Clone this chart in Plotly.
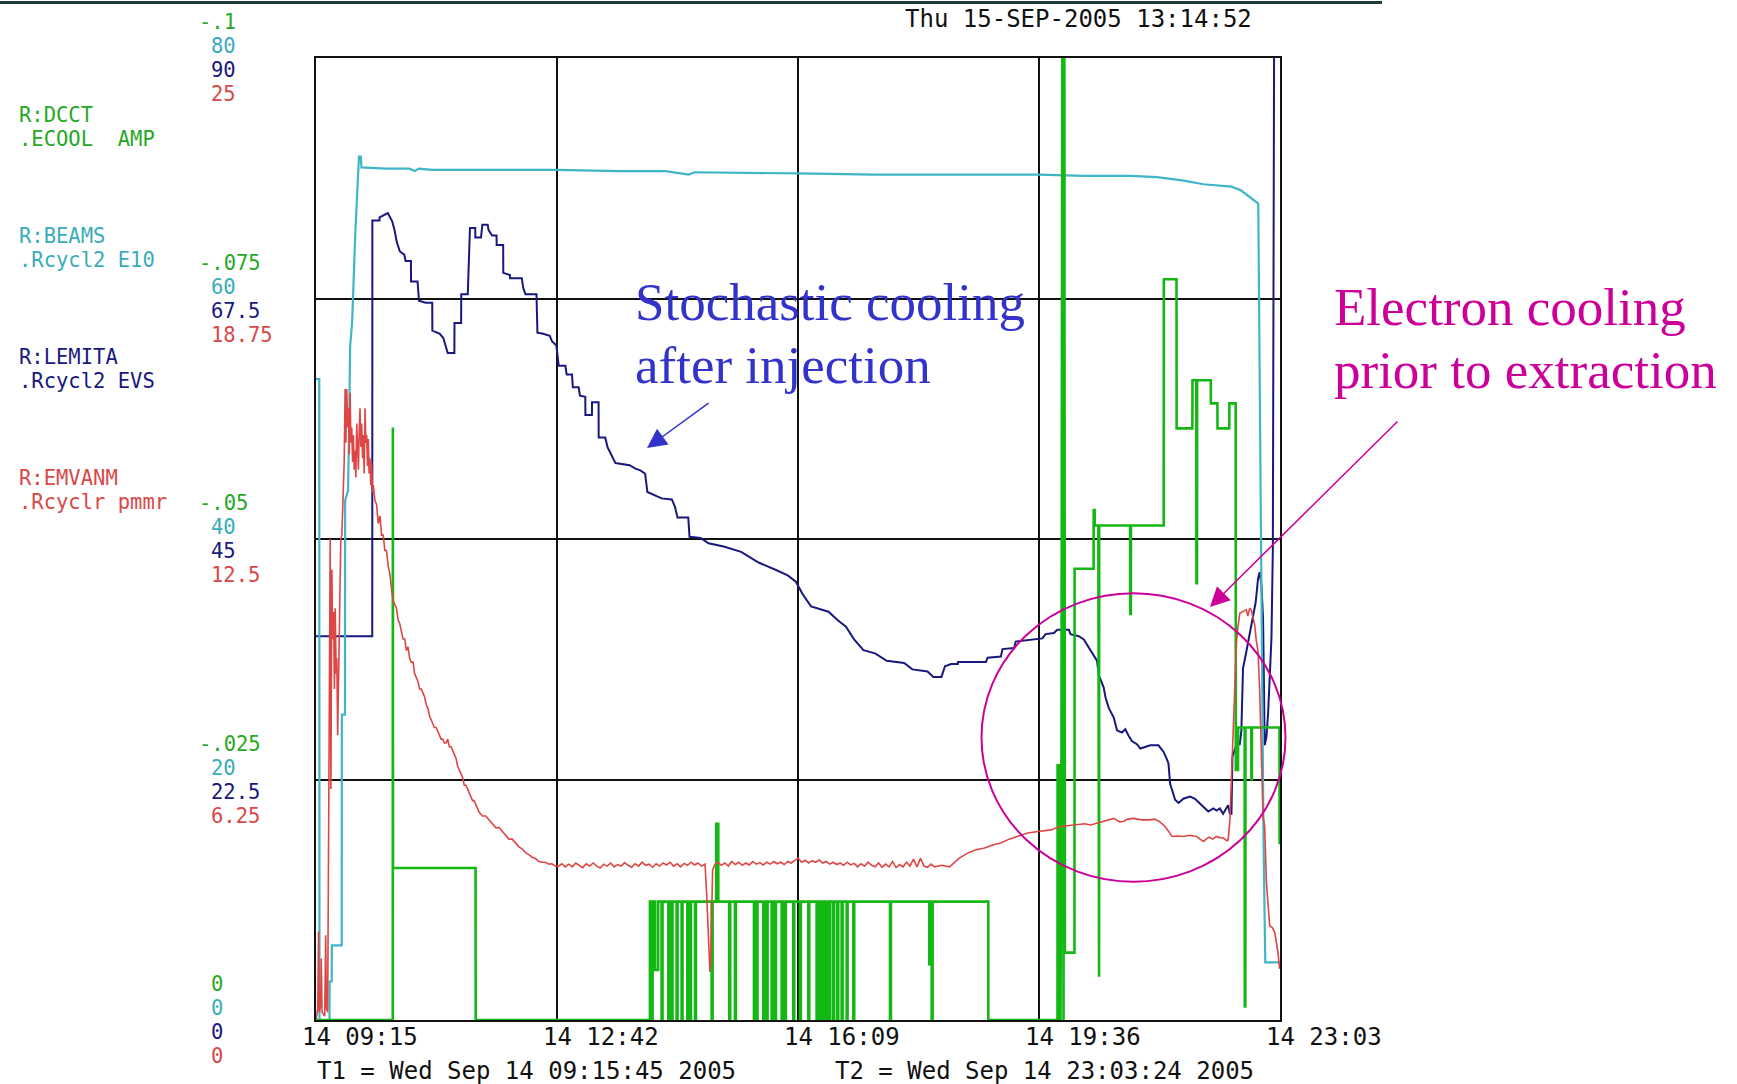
import plotly.graph_objects as go

# ---------------------------------------------------------------------------
# Time base: minutes after T1 (Wed Sep 14 09:15:45 2005) until T2 (23:03:24)
# ---------------------------------------------------------------------------
T_SPAN = 827.65
TIME_GRID = [0.0, 206.9, 413.8, 620.7, 827.65]
TIME_LABELS = ["14 09:15", "14 12:42", "14 16:09", "14 19:36", "14 23:03"]
T1_TEXT = "T1 = Wed Sep 14 09:15:45 2005"
T2_TEXT = "T2 = Wed Sep 14 23:03:24 2005"
STAMP_TEXT = "Thu 15-SEP-2005 13:14:52"

# Channel names (two lines each) and their scale labels, bottom -> top
DCCT_NAME = ["R:DCCT", ".ECOOL\u00a0 AMP"]
BEAMS_NAME = ["R:BEAMS", ".Rcycl2 E10"]
LEMITA_NAME = ["R:LEMITA", ".Rcycl2 EVS"]
EMVANM_NAME = ["R:EMVANM", ".Rcyclr pmmr"]

DCCT_SCALE = ["0", "-.025", "-.05", "-.075", "-.1"]
BEAMS_SCALE = ["0", "20", "40", "60", "80"]
LEMITA_SCALE = ["0", "22.5", "45", "67.5", "90"]
EMVANM_SCALE = ["0", "6.25", "12.5", "18.75", "25"]

DCCT_RANGE = [0.0, -0.1]
BEAMS_RANGE = [0.0, 80.0]
LEMITA_RANGE = [0.0, 90.0]
EMVANM_RANGE = [0.0, 25.0]

# R:BEAMS  (beam intensity, E10)  -- (minute, value)
BEAMS_PTS = [
    (0.0, 53.3), (2.8, 53.3), (3.0, 0.0), (11.6, 0.0), (11.7, 3.2), (13.5, 3.2),
    (13.6, 6.2), (22.1, 6.2), (22.2, 25.4), (24.9, 25.4), (25.0, 43.2), (27.5, 44.0),
    (28.5, 50.0), (29.3, 56.0), (31.0, 58.0), (32.0, 61.0), (33.9, 65.8), (35.0, 68.0),
    (36.9, 71.8), (38.5, 71.8), (39.0, 70.9), (60.0, 70.8), (80.0, 70.8), (85.0, 70.6),
    (88.0, 70.8), (100.0, 70.7), (150.0, 70.7), (207.0, 70.7), (260.0, 70.6), (300.0, 70.6),
    (320.0, 70.3), (325.0, 70.5), (414.0, 70.4), (480.0, 70.3), (560.0, 70.3), (620.0, 70.3),
    (660.0, 70.2), (700.0, 70.2), (722.0, 70.1), (745.0, 69.8), (762.0, 69.5), (786.0, 69.3),
    (794.0, 69.0), (803.0, 68.3), (809.0, 67.9), (810.5, 50.0), (812.0, 30.0), (813.5, 15.0),
    (815.0, 4.8), (827.65, 4.8),
]

# R:LEMITA  (emittance)
LEMITA_PTS = [
    (0.0, 35.9), (48.3, 35.9), (48.4, 74.8), (54.5, 74.8), (54.6, 75.1), (61.7, 75.5),
    (65.5, 74.7), (67.4, 73.9), (69.3, 72.8), (72.0, 71.9), (75.8, 71.6), (76.9, 71.0),
    (81.5, 71.0), (81.6, 69.1), (87.2, 69.1), (88.4, 67.3), (94.1, 67.1), (99.8, 67.1),
    (99.9, 64.5), (106.3, 64.2), (109.3, 63.8), (113.1, 62.4), (118.8, 62.4), (118.9, 65.2),
    (124.6, 65.2), (124.7, 67.9), (130.3, 67.9), (131.4, 71.0), (132.2, 74.1), (136.7, 74.1),
    (136.8, 73.2), (141.7, 73.2), (142.8, 74.4), (147.4, 74.4), (148.2, 73.9), (151.2, 73.4),
    (155.0, 73.4), (155.1, 72.5), (160.7, 72.5), (160.8, 69.9), (166.5, 69.7), (166.6, 69.4),
    (176.7, 69.4), (177.9, 68.5), (179.8, 67.9), (189.3, 67.9), (190.1, 64.3), (195.0, 64.2),
    (200.7, 64.0), (202.6, 63.5), (206.4, 63.1), (208.4, 61.2), (214.1, 61.2), (215.2, 60.4),
    (219.8, 60.4), (220.5, 59.2), (225.5, 59.2), (226.6, 58.4), (231.2, 58.3), (231.3, 56.6),
    (236.9, 56.6), (237.0, 57.8), (242.6, 57.8), (242.7, 54.5), (248.3, 54.5), (250.3, 53.6),
    (254.1, 52.7), (257.1, 52.1), (269.3, 51.9), (273.9, 51.6), (278.8, 51.4), (282.6, 51.1),
    (284.5, 49.4), (290.2, 49.1), (296.7, 48.8), (305.5, 48.7), (308.2, 48.0), (310.4, 47.0),
    (319.6, 47.0), (320.7, 45.2), (330.2, 45.1), (337.0, 44.6), (350.0, 44.3), (365.0, 43.8),
    (380.0, 42.8), (395.0, 42.1), (405.0, 41.6), (412.0, 41.0), (418.0, 39.8), (425.0, 38.7),
    (440.0, 38.2), (448.0, 37.4), (455.0, 36.8), (462.0, 35.6), (470.0, 34.6), (480.0, 34.3),
    (490.0, 33.6), (505.0, 33.4), (512.0, 32.8), (525.0, 32.6), (530.0, 32.1), (537.0, 32.1),
    (540.0, 33.1), (545.3, 33.3), (551.0, 33.3), (551.1, 33.5), (575.2, 33.5), (576.6, 33.9),
    (588.0, 34.0), (589.4, 34.7), (599.4, 34.8), (600.8, 35.4), (619.9, 35.7), (623.6, 35.7),
    (626.4, 36.1), (633.6, 36.2), (636.4, 36.5), (646.4, 36.5), (647.8, 36.1), (654.9, 35.9),
    (659.2, 35.6), (662.1, 35.1), (667.7, 34.2), (670.6, 33.6), (672.0, 32.3), (674.9, 31.6),
    (676.3, 31.1), (677.8, 30.2), (680.6, 29.2), (684.9, 28.3), (687.7, 27.1), (691.9, 26.9),
    (694.8, 27.2), (697.7, 26.6), (700.5, 26.1), (704.8, 25.8), (707.7, 25.4), (710.5, 25.5),
    (716.2, 25.7), (723.3, 25.7), (727.6, 25.1), (730.5, 24.4), (731.9, 24.0), (733.3, 22.1),
    (734.8, 21.5), (737.6, 20.6), (740.5, 20.3), (744.7, 20.7), (750.4, 20.9), (754.7, 20.7),
    (757.5, 20.4), (761.8, 19.9), (766.1, 19.5), (770.4, 19.8), (773.2, 19.6), (776.0, 19.8),
    (778.8, 19.3), (783.1, 20.1), (784.6, 19.3), (786.0, 19.3), (786.8, 24.6), (790.3, 25.8),
    (793.1, 25.8), (794.5, 27.1), (795.9, 32.9), (798.8, 34.5), (801.7, 36.1), (804.5, 37.6),
    (806.8, 39.1), (808.8, 41.3), (810.2, 41.9), (811.7, 40.7), (813.1, 37.6), (813.7, 32.9),
    (814.5, 25.7), (816.0, 26.5), (817.4, 28.6), (818.8, 32.0), (820.3, 35.7), (821.5, 44.0),
    (822.4, 79.9), (822.6, 92.0),
]

# R:EMVANM  (normalized emittance, pi mm mrad)
EMVANM_PTS = [
    (0.0, 0.0), (1.5, 0.3), (2.2, 2.3), (2.8, 0.2), (4.0, 0.4), (4.5, 1.6), (5.2, 0.2),
    (7.5, 0.1), (8.3, 2.2), (9.0, 0.3), (10.0, 0.2), (10.8, 5.2), (11.6, 8.9), (12.2, 12.5),
    (12.8, 6.0), (13.6, 11.7), (14.3, 9.9), (15.1, 10.6), (15.8, 8.6), (16.5, 10.7), (17.3, 9.0),
    (17.9, 9.4), (18.6, 7.4), (19.3, 8.8), (20.2, 10.0), (21.3, 12.5), (22.2, 12.6), (23.0, 13.4),
    (24.2, 14.5), (25.0, 16.4), (25.7, 15.0), (26.4, 16.4), (27.2, 15.4), (27.9, 15.9),
    (28.6, 14.7), (29.3, 16.3), (30.0, 15.0), (30.7, 15.4), (31.4, 14.5), (32.1, 15.2),
    (32.8, 14.3), (33.5, 14.8), (34.2, 14.1), (35.0, 15.5), (35.7, 14.6), (36.4, 14.3),
    (37.1, 15.3), (37.8, 15.9), (38.5, 14.9), (39.2, 15.5), (40.0, 14.6), (40.6, 15.2),
    (41.4, 14.2), (42.1, 15.9), (42.8, 15.0), (43.5, 15.2), (44.2, 14.4), (44.9, 15.1),
    (45.6, 14.2), (46.3, 14.6), (47.0, 13.9), (47.7, 14.5), (48.5, 13.7), (49.2, 13.9),
    (50.6, 13.5), (52.0, 13.4), (53.4, 12.9), (54.9, 13.1), (56.3, 12.6), (57.7, 12.6),
    (59.1, 12.2), (60.5, 12.2), (62.0, 11.8), (63.4, 11.6), (64.8, 11.2), (66.2, 10.9),
    (67.6, 10.8), (69.1, 10.7), (70.5, 10.4), (71.9, 10.3), (73.3, 10.1), (74.7, 9.9),
    (76.2, 9.9), (77.6, 9.6), (79.0, 9.7), (80.4, 9.4), (81.8, 9.3), (83.3, 9.3), (84.7, 9.0),
    (86.1, 8.9), (87.5, 8.8), (89.0, 8.6), (90.4, 8.6), (91.8, 8.5), (93.2, 8.4), (94.6, 8.2),
    (96.1, 8.1), (97.5, 7.9), (98.9, 7.8), (100.3, 7.7), (101.7, 7.6), (103.2, 7.6), (104.6, 7.5),
    (106.0, 7.4), (107.4, 7.3), (108.8, 7.3), (110.3, 7.2), (111.7, 7.2), (113.1, 7.3),
    (114.5, 7.1), (116.0, 7.1), (117.4, 7.0), (118.8, 6.9), (120.2, 6.8), (121.6, 6.6),
    (123.1, 6.5), (124.5, 6.4), (125.9, 6.3), (127.3, 6.1), (128.7, 6.1), (130.2, 6.0),
    (131.6, 5.9), (133.0, 5.8), (134.4, 5.7), (135.8, 5.7), (137.3, 5.6), (138.7, 5.5),
    (140.1, 5.4), (143.0, 5.3), (145.8, 5.3), (148.6, 5.2), (151.5, 5.1), (154.3, 5.0),
    (157.2, 5.0), (160.0, 4.9), (162.8, 4.8), (165.6, 4.7), (168.5, 4.7), (171.3, 4.6),
    (174.2, 4.5), (177.0, 4.45), (179.9, 4.35), (182.7, 4.3), (185.6, 4.23), (188.4, 4.2),
    (191.3, 4.12), (194.1, 4.1), (197.0, 4.1), (199.8, 4.05), (202.6, 4.06), (205.5, 4.0),
    (208.3, 4.0), (211.0, 4.06), (214.0, 3.98), (217.0, 4.05), (220.0, 3.98), (223.0, 4.08),
    (226.0, 4.02), (229.0, 3.96), (232.0, 4.06), (235.0, 4.0), (238.0, 4.08), (241.0, 4.0),
    (244.0, 3.95), (247.0, 4.05), (250.0, 4.0), (253.0, 4.08), (256.0, 3.98), (259.0, 4.04),
    (262.0, 4.0), (265.0, 4.09), (268.0, 4.02), (271.0, 3.97), (274.0, 4.06), (277.0, 4.0),
    (280.0, 4.1), (283.0, 4.02), (286.0, 4.05), (289.0, 3.97), (292.0, 4.06), (295.0, 4.0),
    (298.0, 4.08), (301.0, 4.03), (304.0, 4.1), (307.0, 4.0), (310.0, 4.06), (313.0, 3.98),
    (316.0, 4.07), (319.0, 4.02), (322.0, 4.1), (325.0, 4.03), (328.0, 4.08), (331.0, 4.0),
    (334.0, 4.05), (335.4, 3.29), (338.2, 1.25), (339.0, 1.6), (340.5, 3.9), (342.5, 4.05),
    (345.0, 4.1), (348.0, 4.02), (351.0, 4.08), (354.0, 4.0), (357.0, 4.12), (360.0, 4.04),
    (363.0, 4.1), (366.0, 4.02), (369.0, 4.08), (372.0, 4.03), (375.0, 4.12), (378.0, 4.05),
    (381.0, 4.09), (384.0, 4.03), (387.0, 4.1), (390.0, 4.05), (393.0, 4.12), (396.0, 4.06),
    (399.0, 4.1), (402.0, 4.04), (405.0, 4.12), (408.0, 4.08), (411.0, 4.15), (414.0, 4.2),
    (417.0, 4.1), (420.0, 4.15), (423.0, 4.08), (426.0, 4.14), (429.0, 4.1), (432.0, 4.16),
    (435.0, 4.08), (438.0, 4.12), (441.0, 4.05), (444.0, 4.1), (447.0, 4.04), (450.0, 4.08),
    (453.0, 4.02), (456.0, 4.1), (459.0, 4.03), (462.0, 4.07), (465.0, 3.98), (468.0, 4.06),
    (471.0, 4.0), (474.0, 4.1), (477.0, 4.02), (480.0, 3.98), (483.0, 4.08), (486.0, 3.97),
    (489.0, 4.05), (492.0, 3.98), (495.0, 4.12), (498.0, 3.96), (501.0, 4.04), (504.0, 3.98),
    (507.0, 4.1), (510.0, 4.0), (513.0, 4.18), (516.0, 3.98), (519.0, 4.2), (522.0, 4.0),
    (525.0, 3.97), (528.0, 4.05), (531.0, 3.98), (537.0, 4.02), (544.0, 3.98), (552.0, 4.2),
    (559.0, 4.33), (566.0, 4.42), (574.0, 4.47), (581.0, 4.55), (588.0, 4.6), (595.0, 4.7),
    (602.0, 4.77), (611.0, 4.86), (620.0, 4.9), (631.0, 4.94), (639.0, 5.03), (646.0, 5.05),
    (654.0, 5.07), (660.0, 5.1), (665.0, 5.07), (671.0, 5.12), (676.0, 5.16), (681.0, 5.22),
    (685.0, 5.24), (690.0, 5.15), (693.0, 5.16), (697.0, 5.22), (702.0, 5.24), (709.0, 5.2),
    (716.0, 5.2), (720.0, 5.22), (724.0, 5.16), (729.0, 5.03), (732.0, 4.9), (735.0, 4.77),
    (740.0, 4.78), (745.0, 4.77), (750.0, 4.8), (756.0, 4.77), (759.0, 4.7), (762.0, 4.64),
    (765.0, 4.72), (767.0, 4.75), (770.0, 4.7), (773.0, 4.77), (776.0, 4.74), (779.0, 4.73),
    (782.0, 4.66), (783.1, 4.68), (784.6, 5.16), (786.0, 6.23), (786.8, 7.0), (788.8, 8.72),
    (790.3, 9.84), (791.5, 10.2), (793.1, 10.57), (795.9, 10.62), (798.8, 10.66), (800.0, 10.5),
    (801.7, 10.7), (803.0, 10.66), (804.5, 10.44), (805.9, 10.27), (807.4, 9.84), (808.8, 9.58),
    (810.2, 8.55), (811.7, 7.0), (813.1, 5.29), (814.5, 5.03), (816.0, 3.57), (818.8, 2.45),
    (821.0, 2.4), (823.1, 2.28), (824.4, 2.02), (825.9, 1.76), (827.3, 1.33),
]

# R:DCCT .ECOOL AMP  (negative amps; 0 at the bottom, -.1 at the top)
DCCT_PRE = [
    (0.0, 0.0), (65.9, 0.0), (66.0, -0.0616), (66.1, -0.0158), (137.0, -0.0158),
    (137.1, 0.0),
]
DCCT_BURST_LEVEL = -0.0123
DCCT_BURST_START = 286.7
DCCT_BURST_END = 577.2
# excursions during the burst: (start minute, duration, value)
DCCT_EXCURSIONS = [
    (288.2, 0.8, 0.0), (291.2, 2.6, -0.0052), (296.7, 0.8, 0.0), (302.5, 0.8, 0.0),
    (305.3, 0.8, 0.0), (309.6, 0.8, 0.0), (313.9, 0.8, 0.0), (318.8, 0.8, 0.0),
    (321.1, 0.8, 0.0), (325.4, 0.8, 0.0), (339.7, 0.8, 0.0), (343.6, 1.8, -0.0204),
    (354.8, 0.8, 0.0), (359.7, 0.8, 0.0), (376.0, 0.8, 0.0), (378.3, 0.8, 0.0),
    (384.0, 0.8, 0.0), (386.9, 0.8, 0.0), (391.2, 0.8, 0.0), (394.1, 0.8, 0.0),
    (399.8, 0.8, 0.0), (402.6, 0.8, 0.0), (409.8, 0.8, 0.0), (415.5, 0.8, 0.0),
    (422.7, 0.8, 0.0), (429.8, 0.8, 0.0), (432.7, 0.8, 0.0), (435.0, 0.8, 0.0),
    (437.8, 0.8, 0.0), (440.7, 0.8, 0.0), (444.1, 0.8, 0.0), (447.6, 0.8, 0.0),
    (451.3, 0.8, 0.0), (455.6, 0.8, 0.0), (461.3, 0.8, 0.0), (492.8, 0.8, 0.0),
    (526.5, 0.8, -0.0058), (528.6, 0.8, 0.0),
]
DCCT_POST = [
    (636.6, 0.0), (636.7, -0.0266), (637.5, 0.0), (638.3, -0.0266), (639.2, 0.0),
    (640.0, -0.0266), (640.9, -0.12), (641.8, 0.0), (642.4, -0.12), (643.0, -0.0070),
    (651.2, -0.0070), (651.3, -0.0469), (667.6, -0.0469), (667.7, -0.053), (668.5, -0.053),
    (668.6, -0.0514), (671.7, -0.0514), (671.8, -0.0045), (672.3, -0.0045), (672.4, -0.0514),
    (699.0, -0.0514), (699.1, -0.0422), (699.6, -0.0422), (699.7, -0.0514), (727.8, -0.0514),
    (727.9, -0.077), (738.8, -0.077), (738.9, -0.0615), (752.4, -0.0615), (752.5, -0.0665),
    (755.8, -0.0665), (755.9, -0.0454), (756.4, -0.0454), (756.5, -0.0665), (768.2, -0.0665),
    (768.3, -0.0641), (773.9, -0.0641), (774.0, -0.0615), (784.1, -0.0615), (784.2, -0.0641),
    (789.6, -0.0641), (789.7, -0.026), (791.6, -0.026), (791.7, -0.0304), (797.3, -0.0304),
    (797.4, -0.0014), (797.9, -0.0014), (798.0, -0.0304), (803.0, -0.0304), (803.1, -0.025),
    (803.5, -0.025), (803.6, -0.0304), (827.2, -0.0304), (827.3, -0.0184), (827.65, -0.0184),
]

# ---------------------------------------------------------------------------
# Styling
# ---------------------------------------------------------------------------
W, H = 1737, 1084
PL, PR, PT, PB = 316, 1280, 58, 1020          # plot box in page pixels
MONO = "DejaVu Sans Mono, Liberation Mono, monospace"
SERIF = "Liberation Serif, Times New Roman, serif"
MONO_SIZE = 24          # axis captions and time stamps
STACK_SIZE = 20.5       # stacked scale labels and channel names (24 px pitch)
STACK_CHAR_W = 12.35

C_DCCT, C_BEAMS, C_LEMITA, C_EMVANM = "#14b814", "#3fb6c6", "#18187e", "#de4646"
T_DCCT, T_BEAMS, T_LEMITA, T_EMVANM = "#26a826", "#3aacbc", "#18187e", "#d84848"
INK = "#111111"
BLUE_NOTE, MAGENTA_NOTE = "#3333cc", "#cc0099"


def px(x):
    return (x - PL) / (PR - PL)


def py(y):
    return (PB - y) / (PB - PT)


def unzip(pts):
    return [p[0] for p in pts], [p[1] for p in pts]


# assemble the e-cool amplifier trace from its pieces
dcct_t, dcct_v = unzip(DCCT_PRE)
dcct_t += [DCCT_BURST_START, DCCT_BURST_START]
dcct_v += [0.0, DCCT_BURST_LEVEL]
for start, dur, val in DCCT_EXCURSIONS:
    dcct_t += [start, start, start + dur, start + dur]
    dcct_v += [DCCT_BURST_LEVEL, val, val, DCCT_BURST_LEVEL]
dcct_t += [DCCT_BURST_END, DCCT_BURST_END]
dcct_v += [DCCT_BURST_LEVEL, 0.0]
post_t, post_v = unzip(DCCT_POST)
dcct_t += post_t
dcct_v += post_v

beams_t, beams_v = unzip(BEAMS_PTS)
lemita_t, lemita_v = unzip(LEMITA_PTS)
emv_t, emv_v = unzip(EMVANM_PTS)

fig = go.Figure()
fig.add_trace(go.Scatter(x=beams_t, y=beams_v, yaxis="y2", mode="lines",
                         line=dict(color=C_BEAMS, width=2.2), hoverinfo="skip"))
fig.add_trace(go.Scatter(x=dcct_t, y=dcct_v, yaxis="y3", mode="lines",
                         line=dict(color=C_DCCT, width=2.6), hoverinfo="skip"))
fig.add_trace(go.Scatter(x=emv_t, y=emv_v, yaxis="y4", mode="lines",
                         line=dict(color=C_EMVANM, width=1.6), hoverinfo="skip"))
fig.add_trace(go.Scatter(x=lemita_t, y=lemita_v, yaxis="y", mode="lines",
                         line=dict(color=C_LEMITA, width=2), hoverinfo="skip"))

grid_axis = dict(showgrid=True, gridcolor=INK, gridwidth=2, zeroline=False,
                 showline=True, linecolor=INK, linewidth=2, mirror=True,
                 showticklabels=False, ticks="")
fig.update_layout(
    width=W, height=H,
    margin=dict(l=PL, r=W - PR, t=PT, b=H - PB, pad=0),
    paper_bgcolor="white", plot_bgcolor="white", showlegend=False,
    xaxis=dict(range=[0, T_SPAN], tickvals=TIME_GRID, **grid_axis),
    yaxis=dict(range=LEMITA_RANGE, tickvals=[0, 22.5, 45, 67.5, 90], **grid_axis),
    yaxis2=dict(range=BEAMS_RANGE, overlaying="y", visible=False),
    yaxis3=dict(range=DCCT_RANGE, overlaying="y", visible=False),
    yaxis4=dict(range=EMVANM_RANGE, overlaying="y", visible=False),
)

ann = []


def mono(text, x, y, color=INK, xshift=0, yshift=0, xref="paper", size=MONO_SIZE):
    ann.append(dict(text=text, x=x, y=y, xref=xref, yref="paper", xanchor="left",
                    yanchor="middle", xshift=xshift, yshift=yshift, showarrow=False,
                    borderpad=0, font=dict(family=MONO, size=size, color=color)))


# stacked scale labels at every horizontal grid line
for scale, color, dy in ((DCCT_SCALE, T_DCCT, 36), (BEAMS_SCALE, T_BEAMS, 12),
                         (LEMITA_SCALE, T_LEMITA, -12), (EMVANM_SCALE, T_EMVANM, -36)):
    for k, lab in enumerate(scale):
        col = 210 - STACK_CHAR_W if lab.startswith("-") else 210
        mono(lab, 0, k / 4, color, xshift=col - PL, yshift=dy, size=STACK_SIZE)

# channel names on the left
for (l1, l2), color, y1 in ((DCCT_NAME, T_DCCT, 115), (BEAMS_NAME, T_BEAMS, 236),
                            (LEMITA_NAME, T_LEMITA, 357), (EMVANM_NAME, T_EMVANM, 478)):
    mono(l1, 0, py(y1), color, xshift=18 - PL, size=STACK_SIZE)
    mono(l2, 0, py(y1 + 24), color, xshift=18 - PL, size=STACK_SIZE)

# time axis labels
for t, lab in zip(TIME_GRID, TIME_LABELS):
    mono(lab, t, 0, INK, xshift=-15, yshift=-17, xref="x")
mono(T1_TEXT, 0, 0, INK, xshift=0, yshift=-51)
mono(T2_TEXT, 0, 0, INK, xshift=834 - PL, yshift=-51)
mono(STAMP_TEXT, 0, 1, INK, xshift=904 - PL, yshift=39)

# call-out notes
for text, y in (("Stochastic cooling", 302), ("after injection", 365)):
    ann.append(dict(text=text, x=px(633), y=py(y), xref="paper", yref="paper",
                    xanchor="left", yanchor="middle", showarrow=False,
                    font=dict(family=SERIF, size=53, color=BLUE_NOTE)))
for text, y in (("Electron cooling", 307), ("prior to extraction", 370)):
    ann.append(dict(text=text, x=px(1332), y=py(y), xref="paper", yref="paper",
                    xanchor="left", yanchor="middle", showarrow=False,
                    font=dict(family=SERIF, size=53, color=MAGENTA_NOTE)))

# arrows
ann.append(dict(text="", x=px(647), y=py(448), xref="paper", yref="paper",
                ax=63, ay=-46, showarrow=True, arrowhead=2, arrowsize=2.6,
                arrowwidth=1.5, arrowcolor=BLUE_NOTE))
ann.append(dict(text="", x=px(1210), y=py(607), xref="paper", yref="paper",
                ax=189, ay=-187, showarrow=True, arrowhead=2, arrowsize=2.6,
                arrowwidth=1.5, arrowcolor=MAGENTA_NOTE))

fig.update_layout(annotations=ann)

fig.update_layout(shapes=[
    # white backing behind the stochastic-cooling note
    dict(type="rect", xref="paper", yref="paper", x0=px(613), x1=px(1045),
         y0=py(406), y1=py(258), fillcolor="white", line=dict(width=0), layer="between"),
    # highlight ring around the electron-cooling period
    dict(type="circle", xref="paper", yref="paper", x0=px(981.5), x1=px(1285.5),
         y0=py(881.7), y1=py(593.3), line=dict(color=MAGENTA_NOTE, width=2), layer="above"),
    # header rule
    dict(type="line", xref="paper", yref="paper", x0=px(0), x1=px(1382),
         y0=py(2.5), y1=py(2.5), line=dict(color="#1f3b3b", width=3), layer="above"),
])

fig.write_html("out.html")
